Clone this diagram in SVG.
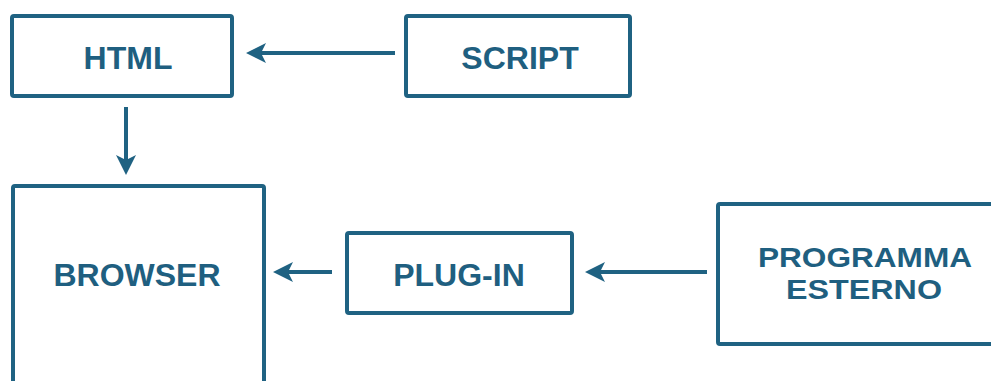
<svg xmlns="http://www.w3.org/2000/svg" width="991" height="381" viewBox="0 0 991 381">
  <style>
    .box { fill: #ffffff; stroke: #1f6282; stroke-width: 4; }
    .lbl { font-family: "Liberation Sans", Arial, sans-serif; font-weight: bold; font-size: 32px; fill: #1f5f80; text-anchor: middle; }
    .lbl2 { font-size: 28.5px; }
    .conn { stroke: #1f6282; stroke-width: 4; fill: none; marker-end: url(#head); }
  </style>
  <defs>
    <marker id="head" viewBox="0 0 20 20" refX="5" refY="10" markerWidth="20" markerHeight="20" markerUnits="userSpaceOnUse" orient="auto">
      <path d="M20,10 L0,0 L5,10 L0,20 Z" fill="#1f6282"/>
    </marker>
  </defs>
  <rect width="991" height="381" fill="#ffffff"/>

  <g id="connectors">
    <line class="conn" x1="395" y1="53" x2="261" y2="53"/>
    <line class="conn" x1="126" y1="107" x2="126" y2="160"/>
    <line class="conn" x1="332" y1="272" x2="288" y2="272"/>
    <line class="conn" x1="707" y1="272" x2="600" y2="272"/>
  </g>

  <g id="html">
    <rect class="box" x="12" y="16" width="220" height="80" rx="2"/>
    <text class="lbl" x="128" y="69">HTML</text>
  </g>
  <g id="script">
    <rect class="box" x="406" y="16" width="224" height="80" rx="2"/>
    <text class="lbl" x="520" y="69">SCRIPT</text>
  </g>
  <g id="browser">
    <rect class="box" x="13" y="186" width="251" height="220" rx="2"/>
    <text class="lbl" x="137" y="286">BROWSER</text>
  </g>
  <g id="plug-in">
    <rect class="box" x="347" y="233" width="225" height="80" rx="2"/>
    <text class="lbl" x="459" y="286">PLUG-IN</text>
  </g>
  <g id="programma-esterno">
    <rect class="box" x="718" y="204" width="300" height="140" rx="2"/>
    <text class="lbl lbl2" x="865" y="267" textLength="214" lengthAdjust="spacingAndGlyphs">PROGRAMMA</text>
    <text class="lbl lbl2" x="864" y="299" textLength="156" lengthAdjust="spacingAndGlyphs">ESTERNO</text>
  </g>
</svg>
